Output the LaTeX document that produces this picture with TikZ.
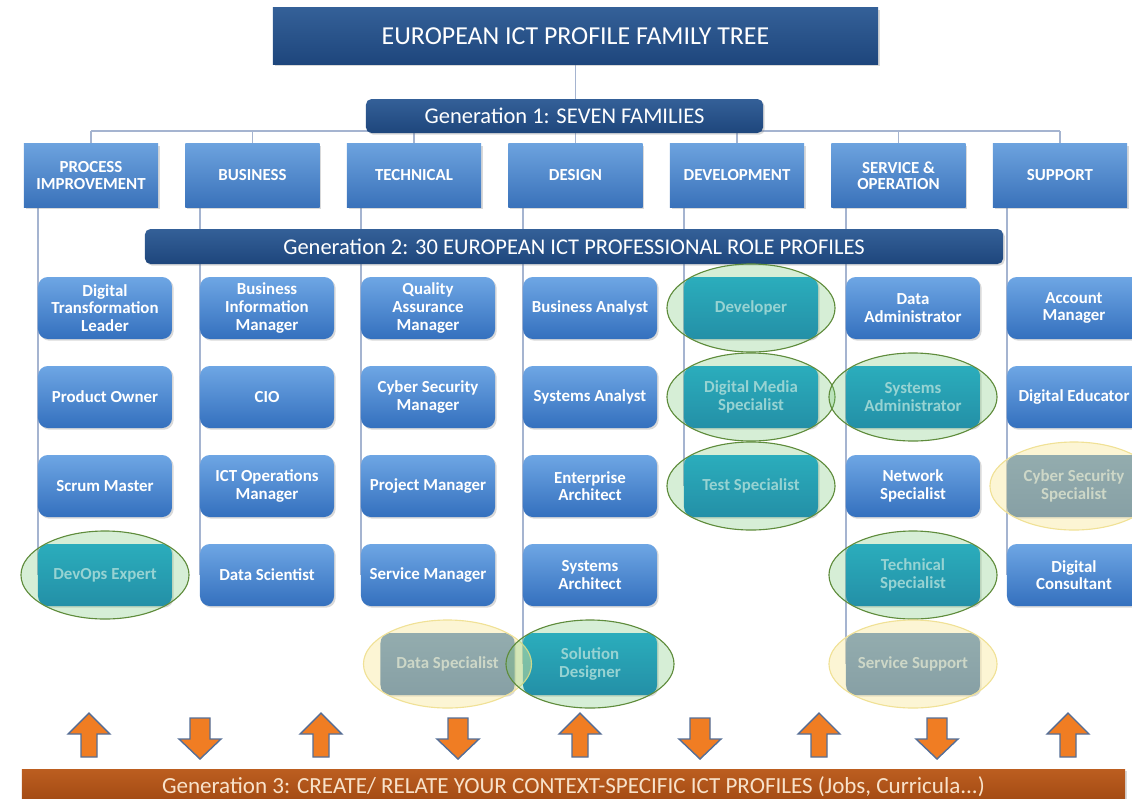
\documentclass[tikz,border=0pt]{standalone}
\usepackage{fontspec}
\setmainfont{Carlito}
\usetikzlibrary{shapes.geometric,shadows,backgrounds}

\definecolor{titletop}{RGB}{52,96,152}
\definecolor{titlebot}{RGB}{30,70,124}
\definecolor{famtop}{RGB}{108,162,222}
\definecolor{fambot}{RGB}{58,114,186}
\definecolor{roletop}{RGB}{110,166,228}
\definecolor{rolebot}{RGB}{52,112,190}
\definecolor{tealtop}{RGB}{10,162,218}
\definecolor{tealbot}{RGB}{0,120,188}
\definecolor{tealtext}{RGB}{165,216,250}
\definecolor{greytop}{RGB}{45,110,180}
\definecolor{greybot}{RGB}{20,85,160}
\definecolor{greytext}{RGB}{160,195,230}
\definecolor{linkcol}{RGB}{165,180,208}
\definecolor{hlgreen}{RGB}{120,200,120}
\definecolor{hlgreenline}{RGB}{95,140,60}
\definecolor{hlyellow}{RGB}{250,235,170}
\definecolor{hlyellowline}{RGB}{240,225,150}
\definecolor{arrowfill}{RGB}{240,125,35}
\definecolor{arrowline}{RGB}{85,110,150}
\definecolor{gentop}{RGB}{188,94,32}
\definecolor{genbot}{RGB}{160,72,18}
\definecolor{gentext}{RGB}{248,226,202}

\tikzset{
  link/.style={draw=linkcol, line width=1.2pt},
  boxshadow/.style={drop shadow={opacity=0.3, shadow xshift=1.2pt, shadow yshift=-1.2pt}},
  genbar/.style={rectangle, rounded corners=4pt, top color=titletop, bottom color=titlebot,
    text=white, font=\fontsize{16}{16}\selectfont, boxshadow},
  family/.style={rectangle, minimum width=3.35cm, minimum height=1.575cm, top color=famtop,
    bottom color=fambot, text=white, align=center, inner sep=1pt,
    font=\bfseries\fontsize{12}{11.5}\selectfont, boxshadow},
  role/.style={rectangle, rounded corners=7pt, minimum width=3.35cm, minimum height=1.55cm,
    top color=roletop, bottom color=rolebot, text=white, align=center, inner sep=1pt,
    font=\bfseries\fontsize{12}{12.5}\selectfont, boxshadow},
  tealrole/.style={role, top color=tealtop, bottom color=tealbot, text=tealtext},
  greyrole/.style={role, top color=greytop, bottom color=greybot, text=greytext},
  hlgreen/.style={ellipse, minimum width=4.2cm, minimum height=2.2cm, fill=hlgreen,
    fill opacity=0.3, draw=hlgreenline, line width=0.8pt},
  hlyellow/.style={ellipse, minimum width=4.2cm, minimum height=2.2cm, fill=hlyellow,
    fill opacity=0.5, draw=hlyellowline, line width=0.8pt},
  blockarrow/.style={fill=arrowfill, draw=arrowline, line width=1pt, line join=miter}
}

\begin{document}
\begin{tikzpicture}[x=0.025cm, y=-0.025cm]
\useasboundingbox (0,0) rectangle (1132,798);

% top of the tree
\node[genbar, rounded corners=0pt, minimum width=15.125cm, minimum height=1.4cm,
      font=\fontsize{18.4}{18.4}\selectfont] (title) at (575.5,36) {EUROPEAN ICT PROFILE FAMILY TREE};
\node[genbar, minimum width=9.925cm, minimum height=0.85cm] (gen1) at (564.5,116) {Generation 1: SEVEN FAMILIES};
\coordinate (bus) at (0,131);

% generation 1: the seven families
\node[family] (fampi)  at (91,175.5)    {PROCESS\\IMPROVEMENT};
\node[family] (fambus) at (252.5,175.5) {BUSINESS};
\node[family] (famtec) at (414,175.5)   {TECHNICAL};
\node[family] (famdes) at (575.5,175.5) {DESIGN};
\node[family] (famdev) at (737,175.5)   {DEVELOPMENT};
\node[family] (famser) at (898.5,175.5) {SERVICE \&\\OPERATION};
\node[family] (famsup) at (1060,175.5)  {SUPPORT};

% generation 2: the role profiles
\node[genbar, minimum width=21.45cm, minimum height=0.875cm] (gen2) at (574,246.5)
  {Generation 2: 30 EUROPEAN ICT PROFESSIONAL ROLE PROFILES};

\node[role] (dtl)    at (105,308) {Digital\\Transformation\\Leader};
\node[role] (po)     at (105,397) {Product Owner};
\node[role] (sm)     at (105,486) {Scrum Master};
\node[tealrole] (devops) at (105,575) {DevOps Expert};

\node[role] (bim)    at (267,308) {Business\\Information\\Manager};
\node[role] (cio)    at (267,397) {CIO};
\node[role] (icto)   at (267,486) {ICT Operations\\Manager};
\node[role] (ds)     at (267,575) {Data Scientist};

\node[role] (qam)    at (428,308) {Quality\\Assurance\\Manager};
\node[role] (csm)    at (428,397) {Cyber Security\\Manager};
\node[role] (pm)     at (428,486) {Project Manager};
\node[role] (svm)    at (428,575) {Service Manager};
\node[greyrole] (dspec) at (447.5,664) {Data Specialist};

\node[role] (ba)     at (590,308) {Business Analyst};
\node[role] (sa)     at (590,397) {Systems Analyst};
\node[role] (ea)     at (590,486) {Enterprise\\Architect};
\node[role] (sysa)   at (590,575) {Systems\\Architect};
\node[tealrole] (sd) at (590,664) {Solution\\Designer};

\node[tealrole] (dev)  at (751,308) {Developer};
\node[tealrole] (dms)  at (751,397) {Digital Media\\Specialist};
\node[tealrole] (ts)   at (751,486) {Test Specialist};

\node[role] (da)     at (913,308) {Data\\Administrator};
\node[tealrole] (sysad) at (913,397) {Systems\\Administrator};
\node[role] (ns)     at (913,486) {Network\\Specialist};
\node[tealrole] (tech) at (913,575) {Technical\\Specialist};
\node[greyrole] (ss) at (913,664) {Service Support};

\node[role] (am)     at (1074,308) {Account\\Manager};
\node[role] (de)     at (1074,397) {Digital Educator};
\node[greyrole] (css) at (1074,486) {Cyber Security\\Specialist};
\node[role] (dc)     at (1074,575) {Digital\\Consultant};

% highlights
\node[hlgreen] (devops-hl) at (devops) {};
\node[hlgreen] (dev-hl)    at (dev) {};
\node[hlgreen] (dms-hl)    at (dms) {};
\node[hlgreen] (ts-hl)     at (ts) {};
\node[hlgreen] (sysad-hl)  at (sysad) {};
\node[hlgreen] (tech-hl)   at (tech) {};
\node[hlyellow] (css-hl)   at (css) {};
\node[hlyellow] (dspec-hl) at (dspec) {};
\node[hlyellow] (ss-hl)    at (ss) {};
\node[hlgreen] (sd-hl)     at (sd) {};

% tree lines
\begin{scope}[on background layer]
  \draw[link] (title.south) -- (title.south |- gen1.north);
  \draw[link] (fampi.north |- bus) -- (famsup.north |- bus);
  \foreach \f in {fampi,fambus,famtec,famdes,famdev,famser,famsup}
    \draw[link] (\f.north) -- (\f.north |- bus);
  \draw[link] (fampi.south -| dtl.west)  -- (devops.west);
  \draw[link] (fambus.south -| bim.west) -- (ds.west);
  \draw[link] (famtec.south -| qam.west) -- (svm.west);
  \draw[link] (famdes.south -| ba.west)  -- (sd.west);
  \draw[link] (famdev.south -| dev.west) -- (ts.west);
  \draw[link] (famser.south -| da.west)  -- (ss.west);
  \draw[link] (famsup.south -| am.west)  -- (dc.west);
\end{scope}

% up and down arrows
\foreach \x in {89,321,580,819,1068}
  \draw[blockarrow] (\x,713) -- (\x+21,734) -- (\x+8,734) -- (\x+8,757)
    -- (\x-8,757) -- (\x-8,734) -- (\x-21,734) -- cycle;
\foreach \x in {200,458,700,937}
  \draw[blockarrow] (\x,759) -- (\x+21,739) -- (\x+10,739) -- (\x+10,718)
    -- (\x-10,718) -- (\x-10,739) -- (\x-21,739) -- cycle;

% generation 3
\node[genbar, rounded corners=0pt, top color=gentop, bottom color=genbot, text=gentext,
      font=\fontsize{16.4}{16.4}\selectfont, minimum width=27.575cm, minimum height=0.9cm]
  (gen3) at (573.5,787)
  {Generation 3: CREATE/ RELATE YOUR CONTEXT-SPECIFIC ICT PROFILES (Jobs, Curricula...)};
\end{tikzpicture}
\end{document}
